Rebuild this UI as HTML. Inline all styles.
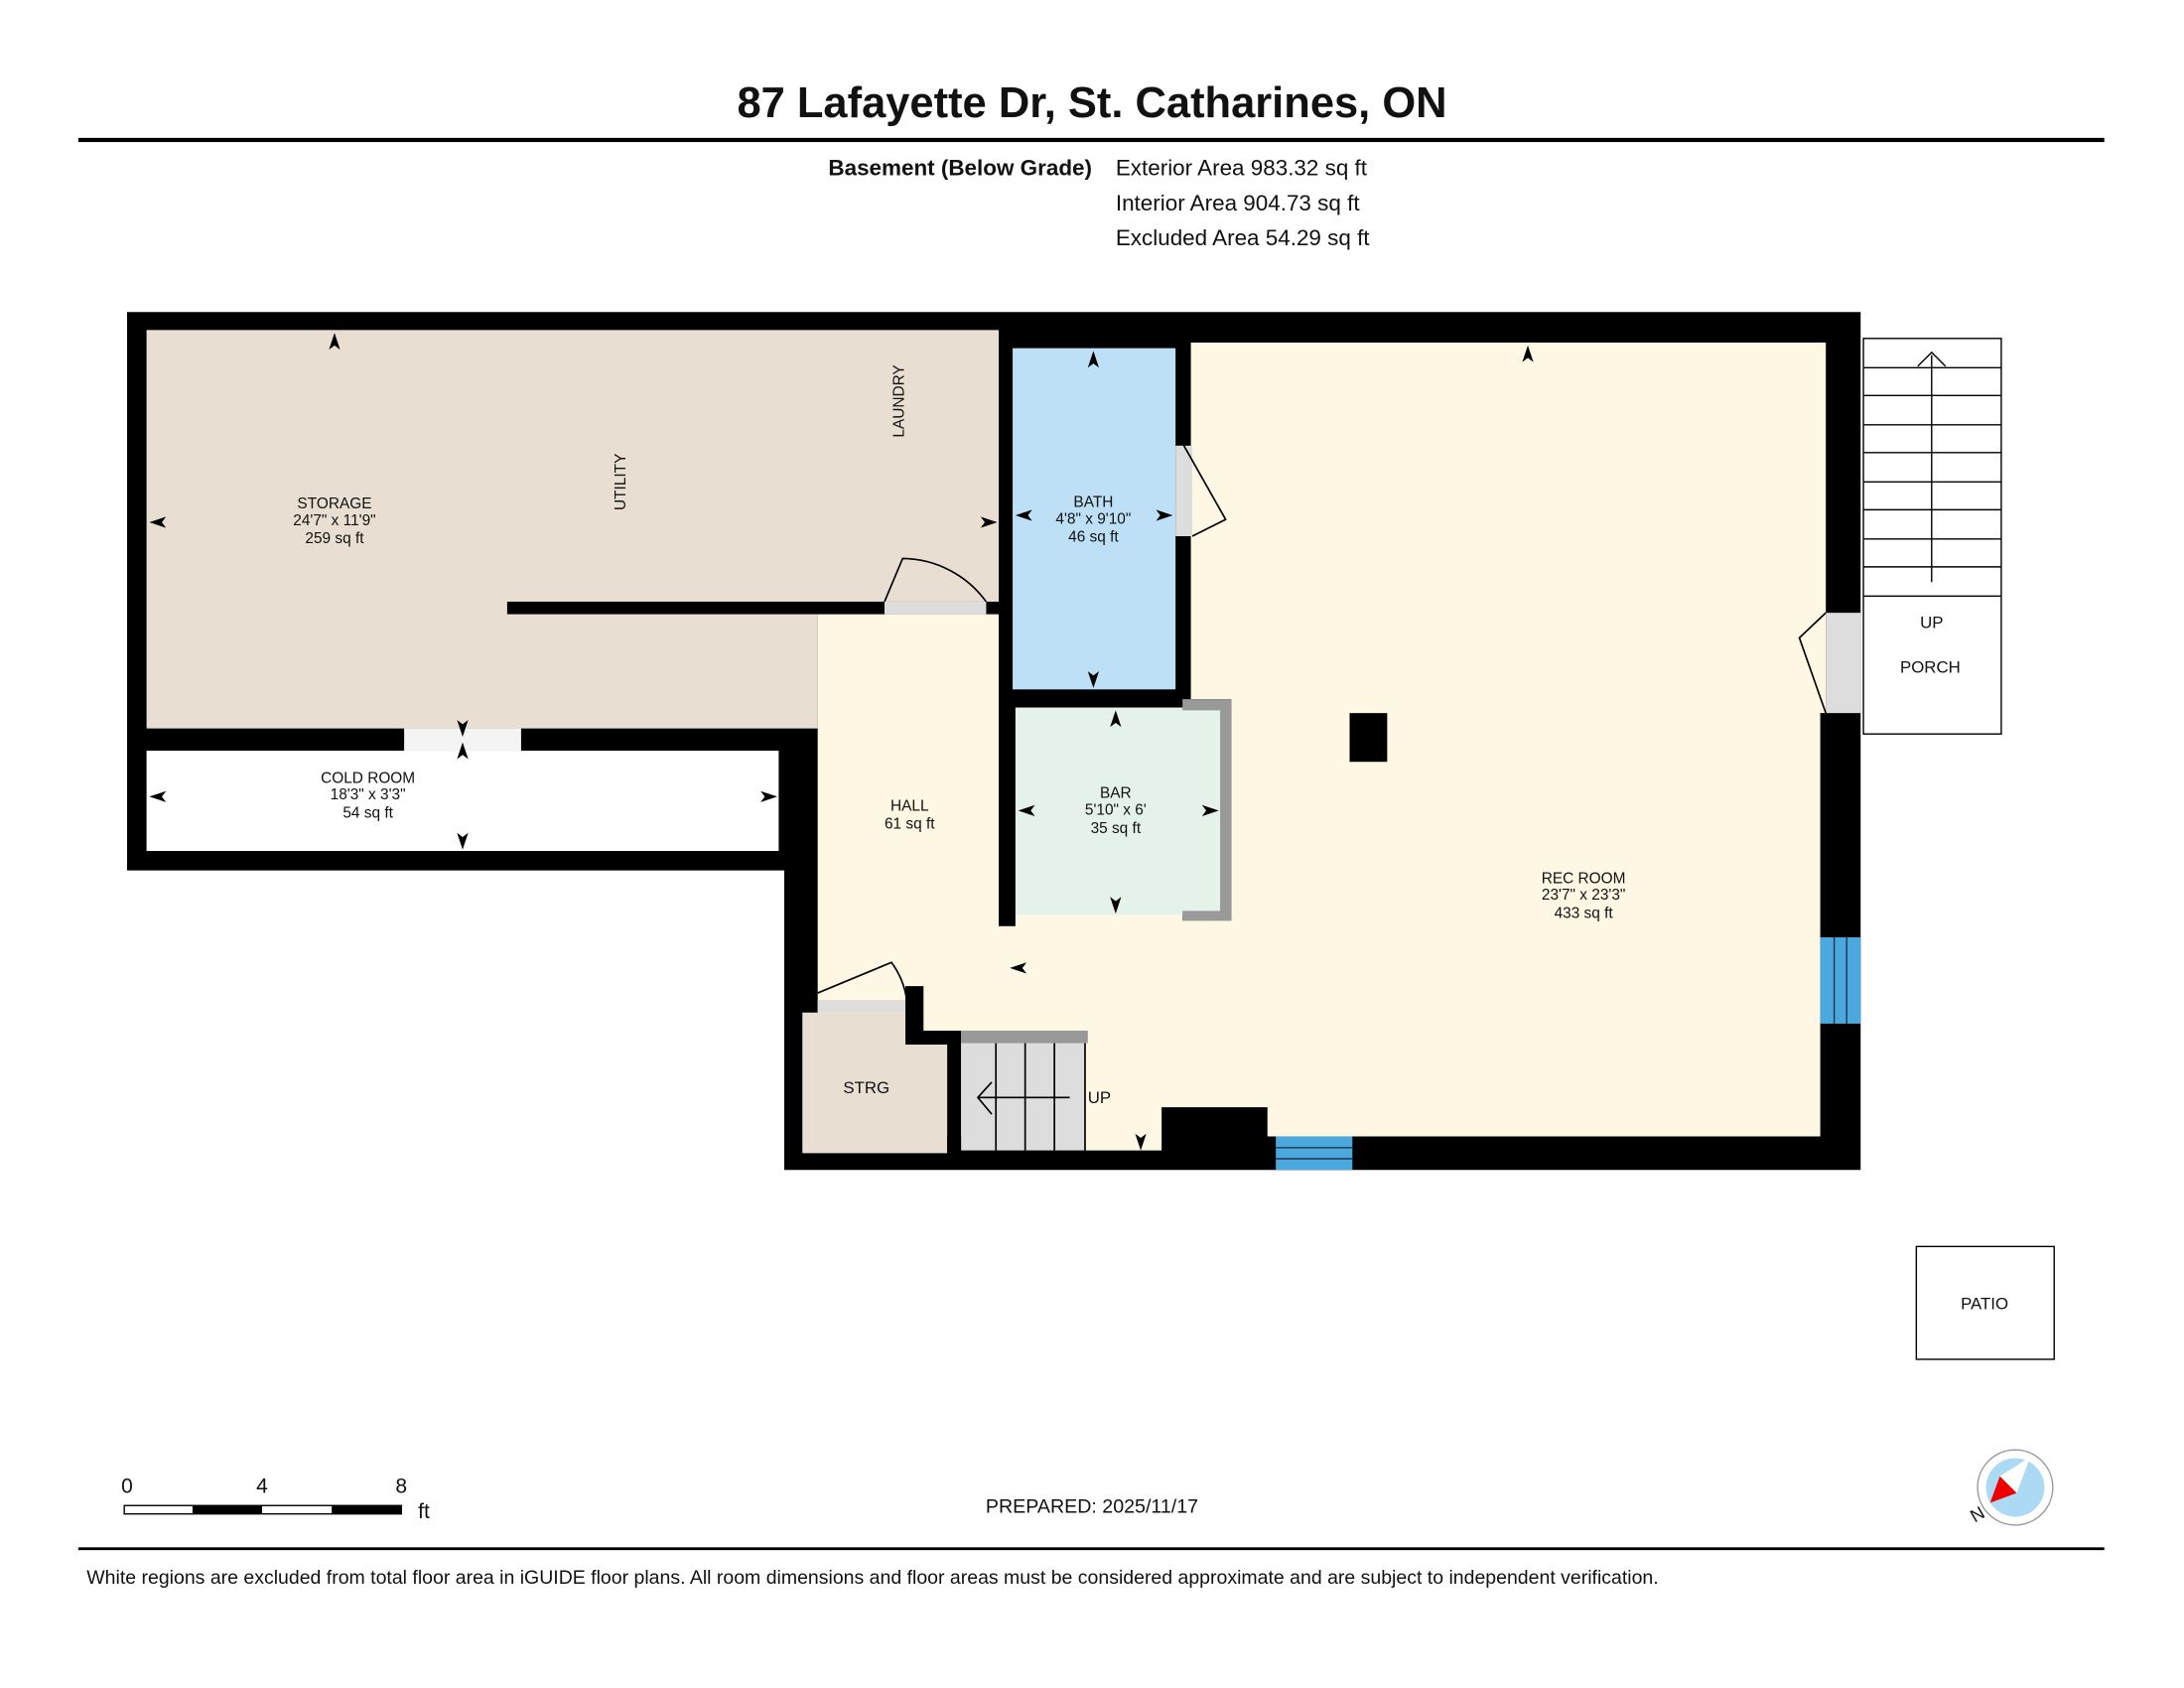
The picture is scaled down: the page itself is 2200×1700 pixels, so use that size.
<!DOCTYPE html>
<html><head><meta charset="utf-8"><style>
html,body{margin:0;padding:0;background:#fff}
svg{display:block}
text{font-family:"Liberation Sans",sans-serif;fill:#111}
</style></head><body>
<svg width="2200" height="1700" viewBox="0 0 1568 1212" xmlns="http://www.w3.org/2000/svg">
<rect width="1568" height="1212" fill="#fff"/>
<text x="784" y="84" font-size="31" font-weight="bold" text-anchor="middle">87 Lafayette Dr, St. Catharines, ON</text>
<rect x="56" y="99" width="1455" height="3" fill="#000"/>
<text x="784" y="126" font-size="16" font-weight="bold" text-anchor="end">Basement (Below Grade)</text>
<text x="801" y="126" font-size="16">Exterior Area 983.32 sq ft</text>
<text x="801" y="151" font-size="16">Interior Area 904.73 sq ft</text>
<text x="801" y="176" font-size="16">Excluded Area 54.29 sq ft</text>

<polygon points="91,224 1336,224 1336,840 563,840 563,625 91,625" fill="#000"/>
<polygon points="105,237 717,237 717,441 587,441 587,523 105,523" fill="#e8dfd2"/>
<rect x="364" y="432" width="353" height="9" fill="#000"/>
<rect x="635" y="432" width="73" height="9" fill="#ddd"/>
<path d="M635,432 L648,401 A75,75 0 0 1 708,432" fill="none" stroke="#000" stroke-width="1.2"/>
<rect x="105" y="539" width="454" height="72" fill="#fff"/>
<rect x="290" y="523" width="84" height="16" fill="#f4f4f4"/>
<polygon points="587,441 717,441 717,665 729,665 729,657 849,657 849,661 884,661 884,502 855,502 855,246 1311,246 1311,512 1307,512 1307,816 910,816 910,795 834,795 834,826 779,826 779,816 587,816" fill="#fdf7e3"/>
<rect x="1311" y="440" width="25" height="72" fill="#ddd"/>
<path d="M1311,440 L1292,458 L1311,512" fill="none" stroke="#000" stroke-width="1.2"/>
<rect x="727" y="250" width="117" height="245" fill="#bde0f7"/>
<rect x="844" y="320" width="12" height="65" fill="#ddd"/>
<path d="M850,320 L880,373 L856,385" fill="none" stroke="#000" stroke-width="1.2"/>
<rect x="729" y="508" width="148" height="149" fill="#e5f2ea"/>
<polygon points="849,502 884,502 884,661 849,661 849,654 876,654 876,510 849,510" fill="#999"/>
<rect x="1307" y="673" width="29" height="62" fill="#4aa8dd"/>
<line x1="1317" y1="673" x2="1317" y2="735" stroke="#235" stroke-width="1"/>
<line x1="1326" y1="673" x2="1326" y2="735" stroke="#235" stroke-width="1"/>
<rect x="916" y="816" width="55" height="24" fill="#4aa8dd"/>
<line x1="916" y1="824" x2="971" y2="824" stroke="#235"/><line x1="916" y1="832" x2="971" y2="832" stroke="#235"/>
<rect x="969" y="512" width="27" height="35" fill="#000"/>
<polygon points="587,727 650,727 650,747 680,747 680,828 576,828 576,727" fill="#e8dfd2"/>
<rect x="587" y="718" width="63" height="9" fill="#ddd"/>
<polygon points="650,708 663,708 663,740 690,740 690,828 680,828 680,750 650,750" fill="#000"/>
<path d="M587,713 L640,691 A60,60 0 0 1 651,718" fill="none" stroke="#000" stroke-width="1.2"/>
<rect x="690" y="749" width="89" height="77" fill="#ddd"/>
<rect x="690" y="740" width="91" height="9" fill="#999"/>
<g stroke="#000" stroke-width="1.2"><line x1="715" y1="749" x2="715" y2="826"/><line x1="736" y1="749" x2="736" y2="826"/><line x1="757" y1="749" x2="757" y2="826"/><line x1="779" y1="749" x2="779" y2="826"/>
<line x1="702" y1="788" x2="768" y2="788"/><polyline points="712,777 702,788 712,800" fill="none"/></g>
<text x="781" y="792" font-size="12">UP</text>
<g stroke="#000" stroke-width="1" fill="none">
<rect x="1338" y="243" width="99" height="284"/>
<line x1="1338" y1="428" x2="1437" y2="428"/>
<line x1="1338" y1="264" x2="1437" y2="264"/><line x1="1338" y1="284" x2="1437" y2="284"/><line x1="1338" y1="305" x2="1437" y2="305"/><line x1="1338" y1="325" x2="1437" y2="325"/><line x1="1338" y1="346" x2="1437" y2="346"/><line x1="1338" y1="366" x2="1437" y2="366"/><line x1="1338" y1="387" x2="1437" y2="387"/><line x1="1338" y1="407" x2="1437" y2="407"/>
<line x1="1387" y1="255" x2="1387" y2="418"/><polyline points="1377,263 1387,253 1397,263"/>
<rect x="1376" y="895" width="99" height="81"/>
</g>
<text x="1387" y="451" font-size="12" text-anchor="middle">UP</text>
<text x="1386" y="483" font-size="12" text-anchor="middle">PORCH</text>
<text x="1425" y="940" font-size="12" text-anchor="middle">PATIO</text>
<g font-size="11" text-anchor="middle">
<text x="240" y="365">STORAGE</text><text x="240" y="377">24'7" x 11'9"</text><text x="240" y="390">259 sq ft</text>
<text x="785" y="364">BATH</text><text x="785" y="376">4'8" x 9'10"</text><text x="785" y="389">46 sq ft</text>
<text x="264" y="562">COLD ROOM</text><text x="264" y="574">18'3" x 3'3"</text><text x="264" y="587">54 sq ft</text>
<text x="653" y="582">HALL</text><text x="653" y="595">61 sq ft</text>
<text x="801" y="573">BAR</text><text x="801" y="585">5'10" x 6'</text><text x="801" y="598">35 sq ft</text>
<text x="1137" y="634">REC ROOM</text><text x="1137" y="646">23'7" x 23'3"</text><text x="1137" y="659">433 sq ft</text>
<text x="622" y="785" font-size="12">STRG</text>
<text transform="translate(449,346) rotate(-90)">UTILITY</text>
<text transform="translate(649,288) rotate(-90)">LAUNDRY</text>
</g>
<g fill="#000">
<polygon points="240,239 236,251 240,248 244,251"/>
<polygon points="107,375 119,371 116,375 119,379"/>
<polygon points="716,375 704,371 707,375 704,379"/>
<polygon points="785,252 781,264 785,261 789,264"/>
<polygon points="785,494 781,482 785,485 789,482"/>
<polygon points="729,370 741,366 738,370 741,374"/>
<polygon points="842,370 830,366 833,370 830,374"/>
<polygon points="1097,248 1093,260 1097,257 1101,260"/>
<polygon points="801,510 797,522 801,519 805,522"/>
<polygon points="801,656 797,644 801,647 805,644"/>
<polygon points="731,582 743,578 740,582 743,586"/>
<polygon points="875,582 863,578 866,582 863,586"/>
<polygon points="332,529 328,517 332,520 336,517"/>
<polygon points="332,533 328,545 332,542 336,545"/>
<polygon points="332,610 328,598 332,601 336,598"/>
<polygon points="107,572 119,568 116,572 119,576"/>
<polygon points="558,572 546,568 549,572 546,576"/>
<polygon points="725,695 737,691 734,695 737,699"/>
<polygon points="819,826 815,814 819,817 823,814"/>
</g>
<rect x="89" y="1081" width="199" height="6" fill="#fff" stroke="#000" stroke-width="1"/>
<rect x="138" y="1081" width="50" height="6" fill="#000"/><rect x="238" y="1081" width="50" height="6" fill="#000"/>
<text x="91" y="1072" font-size="15" text-anchor="middle">0</text>
<text x="188" y="1072" font-size="15" text-anchor="middle">4</text>
<text x="288" y="1072" font-size="15" text-anchor="middle">8</text>
<text x="300" y="1090" font-size="15">ft</text>
<text x="784" y="1086" font-size="14" text-anchor="middle">PREPARED: 2025/11/17</text>
<circle cx="1447" cy="1068" r="27" fill="#fff" stroke="#999" stroke-width="1"/>
<circle cx="1447" cy="1068" r="21" fill="#acd9f4"/>
<polygon points="1458,1046 1436,1060 1448,1072" fill="#fff"/>
<polygon points="1436,1060 1448,1072 1429,1079" fill="#e00"/>
<text x="1416" y="1094" font-size="13" transform="rotate(-30 1416 1090)">N</text>
<rect x="56" y="1111" width="1455" height="2" fill="#000"/>
<text x="62" y="1137" font-size="13.9">White regions are excluded from total floor area in iGUIDE floor plans. All room dimensions and floor areas must be considered approximate and are subject to independent verification.</text>
</svg>
</body></html>
